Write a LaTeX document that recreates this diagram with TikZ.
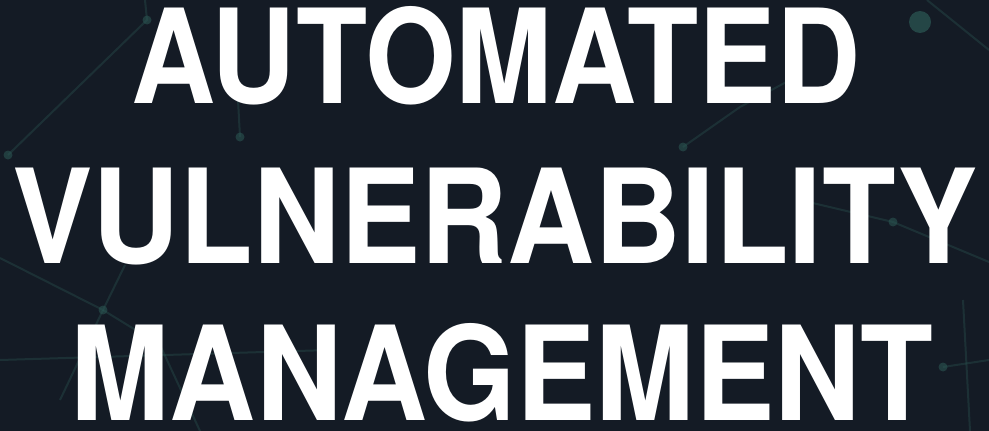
\documentclass[tikz,border=0pt]{standalone}
\usepackage{fontspec}
\setmainfont{TeX Gyre Heros}
\definecolor{bgnavy}{HTML}{141B25}
\definecolor{netteal}{HTML}{2C5955}

\begin{document}
\begin{tikzpicture}[x=1pt,y=-1pt,
    title/.style={text=white, anchor=base, inner sep=0pt,
      font=\fontsize{131}{160}\selectfont\bfseries},
    net/.style={draw=netteal, line width=2pt, opacity=0.35},
    hub/.style={fill=netteal, opacity=0.55}]
  \useasboundingbox (0,0) rectangle (989,431);
  \fill[bgnavy] (0,0) rectangle (989,431);

  % faint network behind the title
  \coordinate (p1) at (8,155);
  \coordinate (p2) at (147,20);
  \coordinate (p3) at (240,137);
  \coordinate (p4) at (103,310);
  \coordinate (p5) at (683,147);
  \coordinate (p6) at (920,22);
  \coordinate (p7) at (893,222);
  \coordinate (p8) at (943,367);
  \coordinate (p9) at (330,93);
  \draw[net] (p1) -- (p2) -- (145,0);
  \draw[net] (p3) -- (238,100);
  \draw[net] (0,258) -- (p4) -- (125,265);
  \draw[net] (p4) -- (160,345) -- (200,431);
  \draw[net] (p4) -- (60,400);
  \draw[net] (0,360) -- (330,350);
  \draw[net] (p5) -- (740,107) -- (790,80);
  \draw[net] (927,0) -- (989,50);
  \draw[net] (p7) -- (989,262);
  \draw[net] (p7) -- (800,200);
  \draw[net] (963,300) -- (970,431);
  \draw[net] (p8) -- (989,360);
  \foreach \p in {p1,p2,p3,p4,p5,p7,p8,p9}
    \fill[hub] (\p) circle (4.5);
  \fill[netteal, opacity=0.7] (p6) circle (11);

  % title, three lines
  \node[title] (top) at (496,103) {\scalebox{0.89}[1]{AUTOMATED}};
  \node[title] (mid) at (495,263) {\scalebox{0.92}[1]{VULNERABILITY}};
  \node[title] (bot) at (502,420) {\scalebox{0.91}[1]{MANAGEMENT}};
\end{tikzpicture}
\end{document}
